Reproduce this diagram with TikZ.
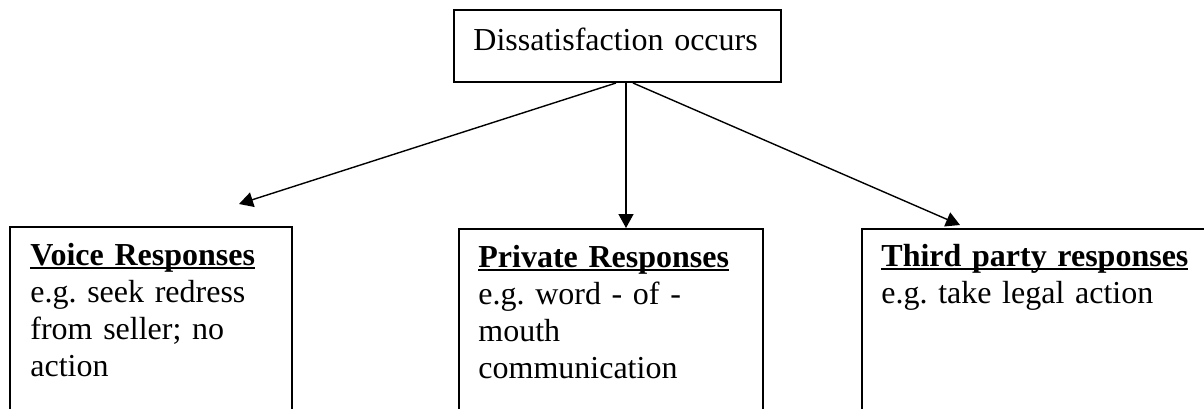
\documentclass[tikz,border=0pt]{standalone}
\usepackage{fontspec}
\setmainfont{Liberation Serif}
\usetikzlibrary{arrows.meta,calc}
\newcommand\myul[1]{\setbox0\hbox{#1}\rlap{\rule[-2.2pt]{\wd0}{1pt}}\box0}
\frenchspacing
\begin{document}
\begin{tikzpicture}[x=0.5pt,y=-0.5pt,
  box/.style={draw,line width=1pt,inner sep=0pt,anchor=north west},
  txt/.style={inner sep=0pt,anchor=base west,align=left,text width=175pt,
    font=\fontsize{16pt}{18.5pt}\selectfont\frenchspacing},
  arr/.style={line width=0.7pt,-{Triangle[length=7pt,width=7.5pt]}}]
\useasboundingbox (0,0) rectangle (1204,408);
\clip (0,0) rectangle (1204,408);
% boxes
\node[box,minimum width=163.5pt,minimum height=36pt] (top) at (453,9) {};
\node[box,minimum width=141pt,minimum height=110pt] (vb) at (9,226) {};
\node[box,minimum width=152pt,minimum height=110pt] (pb) at (458,228) {};
\node[box,minimum width=180pt,minimum height=110pt] (tb) at (861,228) {};
% texts
\node[txt] (toptext) at (473,50) {Dissatisfaction occurs};
\node[txt] (vt) at (30,265) {\myul{\textbf{Voice Responses}}\\e.g. seek redress\\from seller; no\\action};
\node[txt] (pt) at (478,267) {\myul{\textbf{Private Responses}}\\e.g. word - of -\\mouth\\communication};
\node[txt] (tt) at (881,266) {\myul{\textbf{Third party responses}}\\e.g. take legal action};
% connectors
\coordinate (ls) at ($(top.south)+(-1.5,0)$);
\coordinate (ms) at ($(top.south)+(8.5,0)$);
\coordinate (rs) at ($(top.south)+(15.5,0)$);
\coordinate (vtip) at ($(vb.north west)+(230,-22)$);
\coordinate (rtip) at ($(tb.north west)+(99,-3)$);
\draw[arr] (ls) -- (vtip);
\draw[arr] (ms) -- (ms |- pb.north);
\draw[arr] (rs) -- (rtip);
\end{tikzpicture}
\end{document}
